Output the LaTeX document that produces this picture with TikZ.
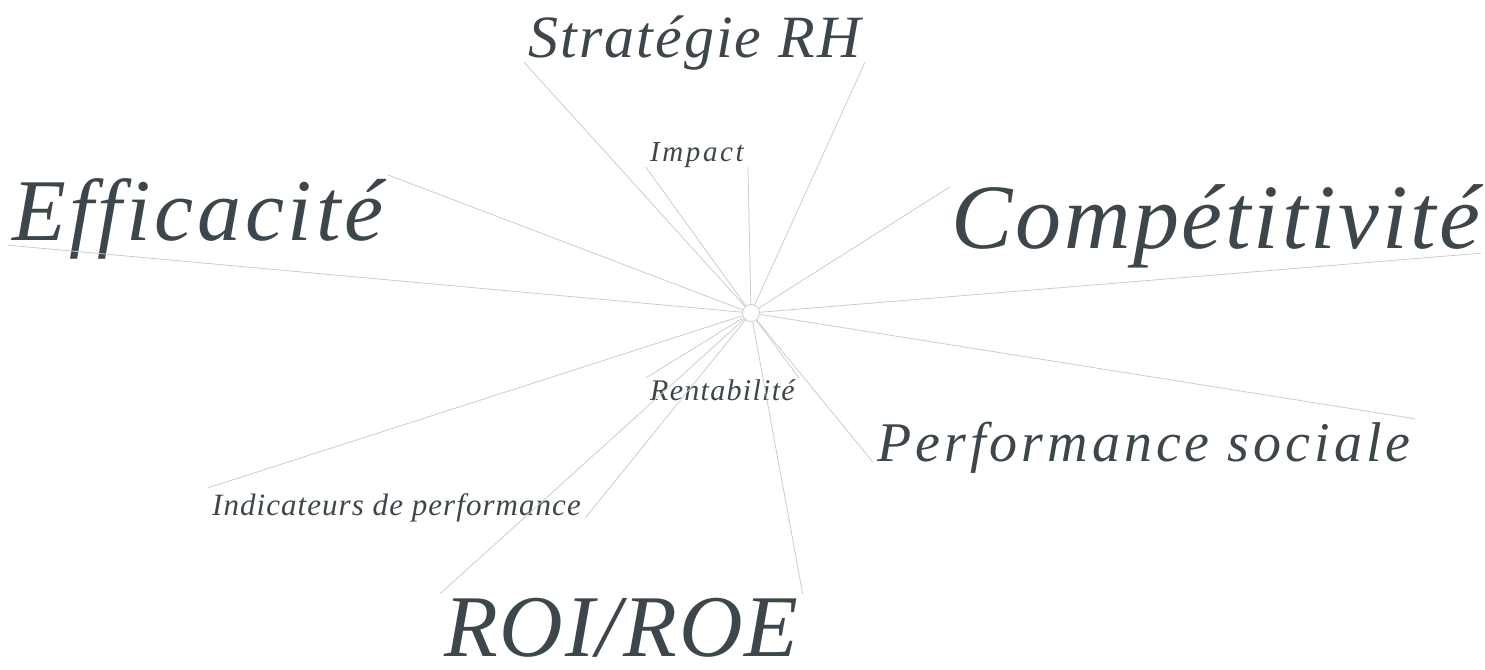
\documentclass[tikz,border=0pt]{standalone}
\usepackage{fontspec}
\setmainfont{Liberation Serif}
\definecolor{txt}{HTML}{3D474B}
\definecolor{ln}{HTML}{CCCCCC}
\begin{document}
\begin{tikzpicture}[x=1pt,y=-1pt,
  lbl/.style={anchor=base west, inner xsep=4pt, inner ysep=0pt, text=txt, font=\itshape},
  ray/.style={draw=ln, line width=0.8pt}]
\useasboundingbox (0,0) rectangle (1485,669);
% labels
\node[lbl, font={\fontsize{60}{60}\itshape\addfontfeatures{LetterSpace=3.5}}, text height=44pt, text depth=4pt] (strat) at (524,58) {Stratégie RH};
\node[lbl, font={\fontsize{29}{29}\itshape\addfontfeatures{LetterSpace=9}}, text height=22pt, text depth=6pt] (impact) at (646,161) {Impact};
\node[lbl, font={\fontsize{88}{88}\itshape\addfontfeatures{LetterSpace=4.3}}, text height=65pt, text depth=5pt] (eff) at (8,240) {Efficacité};
\node[lbl, inner xsep=1pt, font={\fontsize{92}{92}\itshape\addfontfeatures{LetterSpace=3}}, text height=61pt, text depth=5pt] (comp) at (950,248) {Compétitivité};
\node[lbl, font={\fontsize{56}{56}\itshape\addfontfeatures{LetterSpace=7.2}}, text height=42pt, text depth=1pt] (perf) at (873,461) {Performance sociale};
\node[lbl, font={\fontsize{31}{31}\itshape\addfontfeatures{LetterSpace=3.4}}, text height=27pt, text depth=3pt] (indic) at (208,515) {Indicateurs de performance};
\node[lbl, font={\fontsize{88}{88}\itshape\addfontfeatures{LetterSpace=2.3}}, text height=62pt, text depth=3pt] (roi) at (440,656) {ROI/ROE};
\node[lbl, font={\fontsize{30}{30}\itshape\addfontfeatures{LetterSpace=4.3}}, text height=22pt, text depth=3pt] (rent) at (646,400) {Rentabilité};
% centre
\node[circle, draw=ln, fill=white, line width=0.8pt, minimum size=17pt, inner sep=0pt] (c) at (751,313) {};
% rays
\draw[ray] (c) -- (strat.south west);
\draw[ray] (c) -- (strat.south east);
\draw[ray] (c) -- (impact.south west);
\draw[ray] (c) -- (impact.south east);
\draw[ray] (c) -- (eff.north east);
\draw[ray] (c) -- (eff.south west);
\draw[ray] (c) -- (comp.north west);
\draw[ray] (c) -- (comp.south east);
\draw[ray] (c) -- (perf.north east);
\draw[ray] (c) -- (perf.south west);
\draw[ray] (c) -- (indic.north west);
\draw[ray] (c) -- (indic.south east);
\draw[ray] (c) -- (roi.north west);
\draw[ray] (c) -- (roi.north east);
\draw[ray] (c) -- (rent.north west);
\draw[ray] (c) -- (rent.north east);
\end{tikzpicture}
\end{document}
